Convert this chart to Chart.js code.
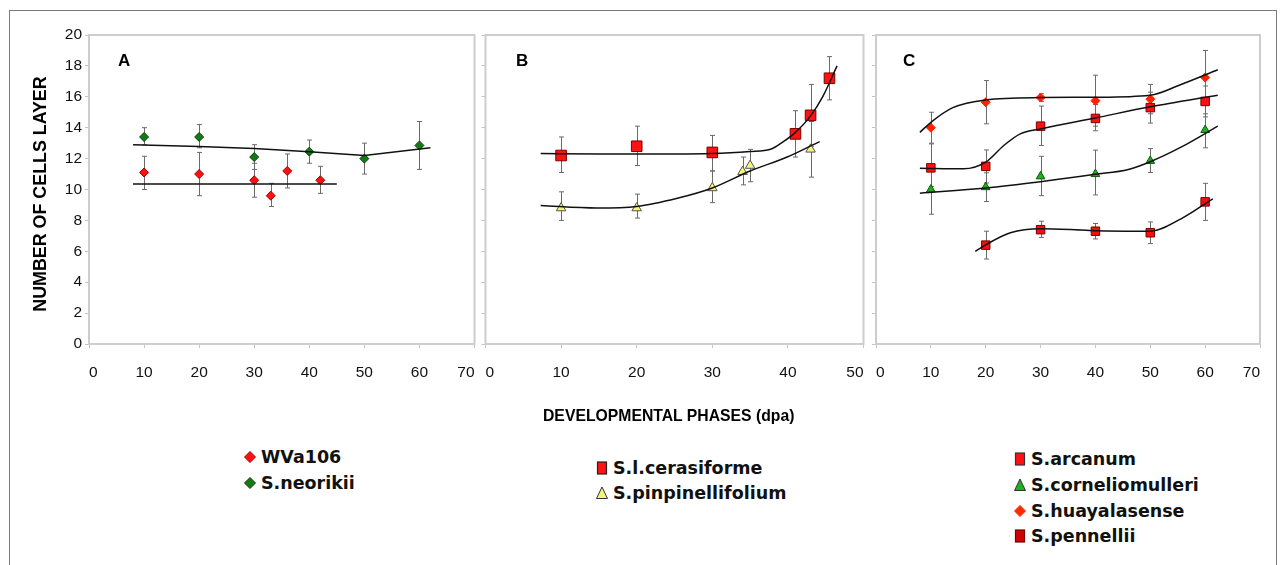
<!DOCTYPE html>
<html><head><meta charset="utf-8">
<script src="https://cdn.jsdelivr.net/npm/chart.js@4.4.1/dist/chart.umd.min.js"></script>
<style>
html,body{margin:0;padding:0;background:#fff;}
body{width:1281px;height:565px;position:relative;overflow:hidden;font-family:'Liberation Sans',Arial,sans-serif;}
#outer{position:absolute;left:9px;top:10px;width:1268px;height:620px;border:1.5px solid #7a7a7a;box-sizing:border-box;}
.cw{position:absolute;top:0;height:400px;}
.panel{position:absolute;font:bold 17px 'Liberation Sans',Arial,sans-serif;line-height:20px;color:#000;}
#xt{position:absolute;left:543px;top:407px;font:bold 15.75px 'Liberation Sans',Arial,sans-serif;line-height:18px;white-space:nowrap;color:#000;}
#yt{position:absolute;left:-110.5px;top:183.5px;width:300px;height:20px;text-align:center;font:bold 17.85px 'Liberation Sans',Arial,sans-serif;line-height:20px;transform:rotate(-90deg);white-space:nowrap;color:#000;}
.lt{position:absolute;font:bold 17.5px 'DejaVu Sans',sans-serif;line-height:20px;white-space:nowrap;color:#111;}
.lm{position:absolute;}
</style>
</head><body>
<div id="outer"></div>
<div class="cw" style="left:0;width:480px"><canvas id="cA" width="480" height="400"></canvas></div>
<div class="cw" style="left:477px;width:395px"><canvas id="cB" width="395" height="400"></canvas></div>
<div class="cw" style="left:869px;width:412px"><canvas id="cC" width="412" height="400"></canvas></div>
<div class="panel" style="left:118px;top:51px">A</div>
<div class="panel" style="left:516px;top:51px">B</div>
<div class="panel" style="left:903px;top:51px">C</div>
<div id="yt">NUMBER OF CELLS LAYER</div>
<div id="xt">DEVELOPMENTAL PHASES (dpa)</div>
<div id="legend"></div>
<script>
// ---------- Data ----------
// Panel A
const A_X_WVA = [10, 20, 30, 33, 36, 42];
const A_Y_WVA = [11.1, 11.0, 10.6, 9.6, 11.2, 10.6];
const A_HI_WVA = [12.15, 12.4, 11.7, 10.4, 12.3, 11.5];
const A_LO_WVA = [10.0, 9.6, 9.5, 8.9, 10.1, 9.75];
const A_X_NEO = [10, 20, 30, 40, 50, 60];
const A_Y_NEO = [13.4, 13.4, 12.1, 12.45, 12.0, 12.85];
const A_HI_NEO = [14.0, 14.2, 12.9, 13.2, 13.0, 14.4];
const A_LO_NEO = [12.9, 12.7, 11.3, 11.7, 11.0, 11.3];
const A_TX_WVA = [8, 45];
const A_TY_WVA = [10.35, 10.35];
const A_TX_NEO = [8, 20, 30, 40, 50, 62];
const A_TY_NEO = [12.9, 12.78, 12.65, 12.45, 12.2, 12.7];
// Panel B
const B_X_CER = [10, 20, 30, 41, 43, 45.5];
const B_Y_CER = [12.2, 12.8, 12.4, 13.6, 14.8, 17.2];
const B_HI_CER = [13.4, 14.1, 13.5, 15.1, 16.8, 18.6];
const B_LO_CER = [11.1, 11.55, 11.2, 12.1, 12.8, 15.8];
const B_X_PIN = [10, 20, 30, 34, 35, 43];
const B_Y_PIN = [8.8, 8.8, 10.1, 11.15, 11.55, 12.6];
const B_HI_PIN = [9.85, 9.7, 11.2, 12.1, 12.6, 14.4];
const B_LO_PIN = [8.0, 8.15, 9.15, 10.3, 10.5, 10.8];
const B_TX_CER = [7.3, 15, 20, 25, 30, 35, 37.7, 39.4, 41, 42.9, 44.65, 46.5];
const B_TY_CER = [12.33, 12.3, 12.3, 12.3, 12.33, 12.46, 12.6, 13.1, 13.7, 14.7, 16.05, 18.0];
const B_TX_PIN = [7.3, 14.7, 20, 25.5, 30, 35, 39.9, 44.2];
const B_TY_PIN = [8.96, 8.8, 8.9, 9.45, 10.1, 11.2, 12.1, 13.1];
// Panel C
const C_X = [10, 20, 30, 40, 50, 60];
const C_Y_ARC = [11.4, 11.5, 14.1, 14.6, 15.3, 15.7];
const C_HI_ARC = [12.95, 12.56, 15.4, 15.5, 16.3, 16.7];
const C_LO_ARC = [10.2, 10.42, 12.85, 13.8, 14.3, 14.7];
const C_Y_COR = [10.0, 10.15, 10.85, 11.0, 11.85, 13.85];
const C_HI_COR = [11.6, 11.08, 12.15, 12.55, 12.65, 14.9];
const C_LO_COR = [8.4, 9.22, 9.6, 9.65, 11.1, 12.7];
const C_Y_HUA = [14.0, 15.65, 15.95, 15.75, 15.85, 17.25];
const C_HI_HUA = [15.0, 17.05, 16.2, 17.4, 16.8, 19.0];
const C_LO_HUA = [13.0, 14.25, 15.7, 14.1, 14.9, 15.5];
const C_X_PEN = [20, 30, 40, 50, 60];
const C_Y_PEN = [6.4, 7.4, 7.3, 7.2, 9.2];
const C_HI_PEN = [7.3, 7.95, 7.8, 7.9, 10.4];
const C_LO_PEN = [5.5, 6.9, 6.8, 6.5, 8.0];
const C_TX_HUA = [8, 10, 14, 20, 30, 40, 50, 55.6, 62.3];
const C_TY_HUA = [13.7, 14.35, 15.3, 15.8, 15.95, 15.97, 16.1, 16.8, 17.75];
const C_TX_ARC = [8, 16, 20, 23.3, 26.3, 30, 40, 50, 62.3];
const C_TY_ARC = [11.38, 11.34, 11.77, 12.85, 13.6, 13.92, 14.63, 15.35, 16.1];
const C_TX_COR = [8, 20, 30, 40, 46, 50, 55.6, 62.3];
const C_TY_COR = [9.76, 10.09, 10.5, 10.98, 11.3, 11.8, 12.74, 14.1];
const C_TX_PEN = [18.1, 20, 24.5, 30, 35.5, 40, 50, 55.6, 61.4];
const C_TY_PEN = [6.0, 6.42, 7.2, 7.46, 7.41, 7.33, 7.3, 8.1, 9.4];
// Axes
const Y_MIN = 0, Y_MAX = 20, Y_STEP = 2;
const X_STEP = 10;
const A_XMAX = 70, B_XMAX = 50, C_XMAX = 70;
// Legends
const LEG_A = ['WVa106', 'S.neorikii'];
const LEG_B = ['S.l.cerasiforme', 'S.pinpinellifolium'];
const LEG_C = ['S.arcanum', 'S.corneliomulleri', 'S.huayalasense', 'S.pennellii'];

// ---------- Helpers ----------
Chart.defaults.font.family = "'Liberation Sans', Arial, sans-serif";
const pts = (xs, ys) => xs.map((x, i) => ({x: x, y: ys[i]}));

const errPlugin = {
  id: 'errbars',
  beforeDatasetsDraw(chart) {
    const ctx = chart.ctx, xs = chart.scales.x, ys = chart.scales.y;
    const a = chart.chartArea;
    ctx.save();
    ctx.strokeStyle = '#cdcdcd'; ctx.lineWidth = 2;
    ctx.strokeRect(a.left, a.top, a.right - a.left, a.bottom - a.top);
    ctx.restore();
    ctx.save();
    ctx.strokeStyle = '#6a6a6a'; ctx.lineWidth = 1;
    chart.data.datasets.forEach(ds => {
      if (!ds.errHi) return;
      ds.data.forEach((p, i) => {
        const px = Math.round(xs.getPixelForValue(p.x)) + 0.5;
        const yh = ys.getPixelForValue(ds.errHi[i]);
        const yl = ys.getPixelForValue(ds.errLo[i]);
        ctx.beginPath();
        ctx.moveTo(px, yh); ctx.lineTo(px, yl);
        ctx.moveTo(px - 2.5, yh); ctx.lineTo(px + 2.5, yh);
        ctx.moveTo(px - 2.5, yl); ctx.lineTo(px + 2.5, yl);
        ctx.stroke();
      });
    });
    ctx.restore();
  }
};

function markers(label, xs, ys, hi, lo, style, r, fill, border) {
  return {label, data: pts(xs, ys), errHi: hi, errLo: lo, pointStyle: style, pointRadius: r,
    pointHoverRadius: r, backgroundColor: fill, borderColor: border, borderWidth: 1, showLine: false, order: 2};
}
function trend(xs, ys, smooth) {
  return {label: '', data: pts(xs, ys), showLine: true, pointRadius: 0, borderColor: '#111', borderWidth: 1.5,
    tension: 0, cubicInterpolationMode: smooth ? 'monotone' : 'default', fill: false, order: 1};
}

function makeChart(id, datasets, xmax, yWidth, showYLabels, padRight) {
  return new Chart(document.getElementById(id), {
    type: 'scatter',
    data: {datasets},
    plugins: [errPlugin],
    options: {
      responsive: false, animation: false, events: [],
      layout: {padding: {top: 35, right: padRight, left: 0, bottom: 0}},
      plugins: {legend: {display: false}, tooltip: {enabled: false}},
      scales: {
        x: {type: 'linear', min: 0, max: xmax, position: 'bottom',
          afterFit: s => { s.height = 56; s.paddingLeft = 0; s.paddingRight = 0; },
          ticks: {stepSize: X_STEP, align: 'inner', padding: 15, color: '#111', font: {size: 15.5}, maxRotation: 0},
          grid: {drawOnChartArea: false, drawTicks: true, tickLength: 4, color: '#c4c4c4'},
          border: {display: false}},
        y: {type: 'linear', min: Y_MIN, max: Y_MAX,
          afterFit: s => { s.width = yWidth; },
          ticks: {stepSize: Y_STEP, padding: 3, color: '#111', font: {size: 15.5}, display: showYLabels},
          grid: {drawOnChartArea: false, drawTicks: true, tickLength: 4, color: '#c4c4c4'},
          border: {display: false}}
      }
    }
  });
}

makeChart('cA', [
  trend(A_TX_WVA, A_TY_WVA, false),
  trend(A_TX_NEO, A_TY_NEO, false),
  markers(LEG_A[0], A_X_WVA, A_Y_WVA, A_HI_WVA, A_LO_WVA, 'rectRot', 4.5, '#ff1010', '#a00000'),
  markers(LEG_A[1], A_X_NEO, A_Y_NEO, A_HI_NEO, A_LO_NEO, 'rectRot', 4.5, '#137a13', '#0a3f0a')
], A_XMAX, 89, true, 2);

makeChart('cB', [
  trend(B_TX_CER, B_TY_CER, true),
  trend(B_TX_PIN, B_TY_PIN, true),
  markers(LEG_B[0], B_X_CER, B_Y_CER, B_HI_CER, B_LO_CER, 'rect', 7.5, '#ff1212', '#7a0000'),
  markers(LEG_B[1], B_X_PIN, B_Y_PIN, B_HI_PIN, B_LO_PIN, 'triangle', 5.5, '#f4f47a', '#555')
], B_XMAX, 4, false, 5);

makeChart('cC', [
  trend(C_TX_HUA, C_TY_HUA, true),
  trend(C_TX_ARC, C_TY_ARC, true),
  trend(C_TX_COR, C_TY_COR, true),
  trend(C_TX_PEN, C_TY_PEN, true),
  markers(LEG_C[0], C_X, C_Y_ARC, C_HI_ARC, C_LO_ARC, 'rect', 6, '#ff1010', '#7a0000'),
  markers(LEG_C[1], C_X, C_Y_COR, C_HI_COR, C_LO_COR, 'triangle', 5, '#1fb01f', '#0c5a0c'),
  markers(LEG_C[2], C_X, C_Y_HUA, C_HI_HUA, C_LO_HUA, 'rectRot', 4.5, '#ff2200', '#ff2200'),
  markers(LEG_C[3], C_X_PEN, C_Y_PEN, C_HI_PEN, C_LO_PEN, 'rect', 6, '#f01010', '#7a0000')
], C_XMAX, 4, false, 21);

// ---------- Legend (HTML) ----------
const legendItems = [
  {t: LEG_A[0], x: 261, y: 457, mk: 'd', fill: '#ff1010', st: '#a00000'},
  {t: LEG_A[1], x: 261, y: 483, mk: 'd', fill: '#137a13', st: '#0a3f0a'},
  {t: LEG_B[0], x: 613, y: 468, mk: 's', fill: '#ff1212', st: '#222'},
  {t: LEG_B[1], x: 613, y: 493, mk: 't', fill: '#f4f47a', st: '#333'},
  {t: LEG_C[0], x: 1031, y: 459, mk: 's', fill: '#ff1010', st: '#333'},
  {t: LEG_C[1], x: 1031, y: 485, mk: 't', fill: '#1fb01f', st: '#333'},
  {t: LEG_C[2], x: 1031, y: 511, mk: 'd', fill: '#ff2a00', st: '#ff2a00'},
  {t: LEG_C[3], x: 1031, y: 536, mk: 's', fill: '#d00000', st: '#700'}
];
const lg = document.getElementById('legend');
legendItems.forEach(it => {
  const t = document.createElement('div');
  t.className = 'lt'; t.textContent = it.t;
  t.style.left = it.x + 'px'; t.style.top = (it.y - 9.6) + 'px';
  lg.appendChild(t);
  let shape;
  if (it.mk === 'd') shape = '<polygon points="7,1.5 12.5,7 7,12.5 1.5,7" fill="' + it.fill + '" stroke="' + it.st + '" stroke-width="1"/>';
  else if (it.mk === 's') shape = '<rect x="2.5" y="1" width="9" height="12" fill="' + it.fill + '" stroke="' + it.st + '" stroke-width="1.2"/>';
  else shape = '<polygon points="7,1 12.5,12.5 1.5,12.5" fill="' + it.fill + '" stroke="' + it.st + '" stroke-width="1"/>';
  const m = document.createElement('div');
  m.className = 'lm';
  m.style.left = (it.x - 18.5) + 'px'; m.style.top = (it.y - 7) + 'px';
  m.innerHTML = '<svg width="14" height="14" viewBox="0 0 14 14">' + shape + '</svg>';
  lg.appendChild(m);
});
</script>
</body></html>
